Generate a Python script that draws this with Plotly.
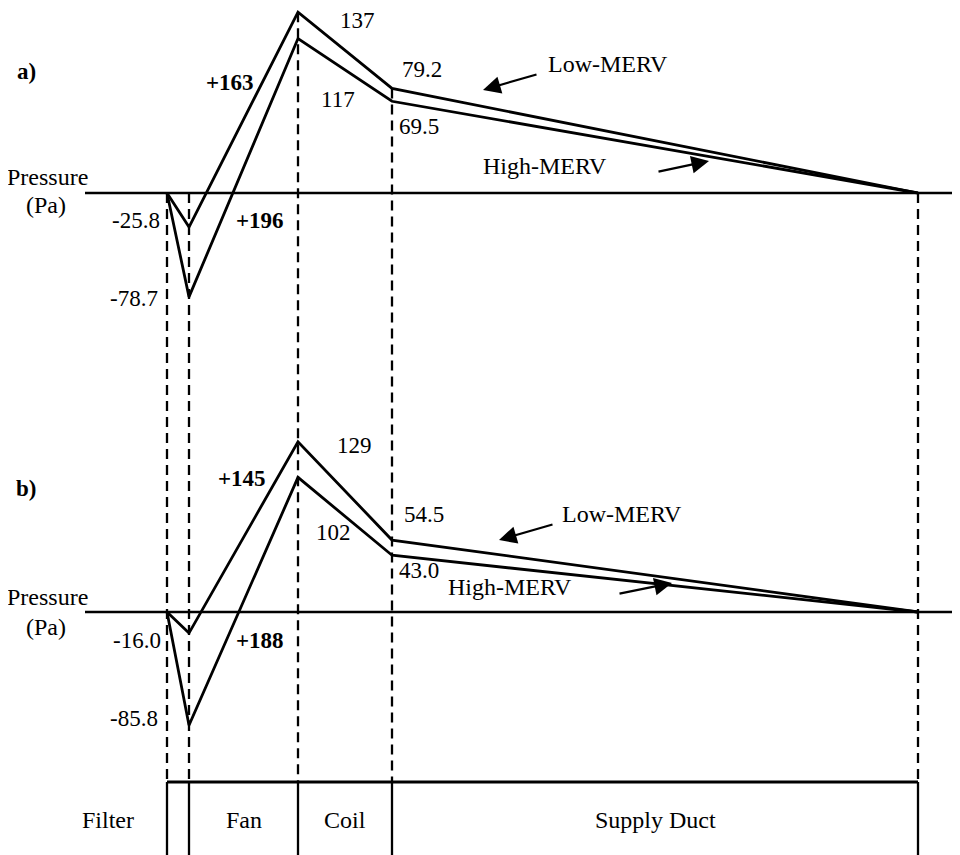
import plotly.graph_objects as go
import numpy as np

# ---------------- data ----------------
components = ["Filter", "Fan", "Coil", "Supply Duct"]
component_length = [0.22, 1.09, 0.94, 5.26]          # schematic lengths (arbitrary units)

low_a = [0, -25.8, 137, 79.2, 0]                       # a) Low-MERV pressure (Pa)
high_a = [0, -78.7, 117, 69.5, 0]                      # a) High-MERV pressure (Pa)
low_b = [0, -16.0, 129, 54.5, 0]                       # b) Low-MERV pressure (Pa)
high_b = [0, -85.8, 102, 43.0, 0]                      # b) High-MERV pressure (Pa)
fan_rise_a = [163, 196]                                # Low, High
fan_rise_b = [145, 188]

# ---------------- layout constants (reference pixel frame) ----------------
W, H = 960, 855
OFF = 8                      # default page margin of the html body
FW, FH = W - OFF, H - OFF    # figure size
X0_PX = 167
PX_PER_UNIT = 100
SCALE = 1.32                 # px per Pa
ZERO_A_PX = 193
ZERO_B_PX = 612
TABLE_PX = 782
FONT = "Liberation Serif"

stations = np.concatenate([[0], np.cumsum(component_length)])

def va(px):   # pixel row -> value on axis a
    return (ZERO_A_PX - px) / SCALE

def vb(px):
    return (ZERO_B_PX - px) / SCALE

def px_x(px):
    return (px - OFF) / FW

def px_y(py):
    return 1 - (py - OFF) / FH

fig = go.Figure()

line_style = dict(color="black", width=2.8)
for y, ax in [(low_a, "y"), (high_a, "y"), (low_b, "y2"), (high_b, "y2")]:
    fig.add_trace(go.Scatter(x=stations, y=y, mode="lines", line=line_style,
                             yaxis=ax, hoverinfo="skip", showlegend=False))

# dashed station lines: from top of panel-a profile down to the component table
for i, xs in enumerate(stations):
    top = max(0, low_a[i], high_a[i])
    fig.add_trace(go.Scatter(x=[xs, xs], y=[top, va(TABLE_PX)], mode="lines",
                             line=dict(color="black", width=2.3, dash="10px,6px"),
                             yaxis="y", hoverinfo="skip", showlegend=False))

shapes = []
for yref in ["y", "y2"]:
    shapes.append(dict(type="line", xref="paper", yref=yref, x0=px_x(85), x1=1, y0=0, y1=0,
                       line=dict(color="black", width=2.3)))
shapes.append(dict(type="line", xref="x", yref="paper", x0=stations[0], x1=stations[-1],
                   y0=px_y(TABLE_PX), y1=px_y(TABLE_PX), line=dict(color="black", width=3)))
for xs in stations:
    shapes.append(dict(type="line", xref="x", yref="paper", x0=xs, x1=xs,
                       y0=px_y(TABLE_PX), y1=0, line=dict(color="black", width=2.3)))

annotations = []

def ann(text, px, py, bold=False, size=23):
    if bold:
        text = f"<b>{text}</b>"
    annotations.append(dict(text=text, xref="paper", yref="paper", x=px_x(px), y=px_y(py),
                            xanchor="center", yanchor="middle", showarrow=False,
                            font=dict(family=FONT, size=size, color="black")))

def arrow(tail, tip):
    annotations.append(dict(text="", xref="paper", yref="paper", x=px_x(tip[0]), y=px_y(tip[1]),
                            ax=tail[0] - tip[0], ay=tail[1] - tip[1], showarrow=True,
                            arrowhead=2, arrowsize=1.6, arrowwidth=2.2, arrowcolor="black",
                            standoff=0, startstandoff=0))

# panel a
ann("a)", 26, 72, bold=True, size=23)
ann("Pressure", 47, 177, size=24)
ann("(Pa)", 46, 205, size=24)
ann(f"{low_a[2]:.0f}", 357, 21)
ann(f"+{fan_rise_a[0]}", 230, 83, bold=True)
ann(f"{high_a[2]:.0f}", 338, 100)
ann(f"{low_a[3]:.1f}", 422, 70)
ann(f"{high_a[3]:.1f}", 419, 126)
ann(f"{low_a[1]:.1f}", 136, 220)
ann(f"+{fan_rise_a[1]}", 260, 220, bold=True)
ann(f"{high_a[1]:.1f}", 134, 298)
ann("Low-MERV", 608, 64, size=24)
ann("High-MERV", 545, 166, size=24)
arrow((538, 74), (483, 90))
arrow((657, 172), (709, 161))

# panel b
ann("b)", 26, 488, bold=True, size=23)
ann("Pressure", 47, 597, size=24)
ann("(Pa)", 46, 627, size=24)
ann(f"{low_b[2]:.0f}", 354, 445)
ann(f"+{fan_rise_b[0]}", 242, 478, bold=True)
ann(f"{high_b[2]:.0f}", 333, 532)
ann(f"{low_b[3]:.1f}", 424, 515)
ann(f"{high_b[3]:.1f}", 419, 570)
ann(f"{low_b[1]:.1f}", 137, 640)
ann(f"+{fan_rise_b[1]}", 260, 640, bold=True)
ann(f"{high_b[1]:.1f}", 134, 718)
ann("Low-MERV", 622, 514, size=24)
ann("High-MERV", 510, 587, size=24)
arrow((554, 524), (499, 540))
arrow((618, 594), (672, 583))

# component labels
for i, name in enumerate(components):
    if name == "Filter":
        annotations.append(dict(text=name, xref="x", yref="paper", x=stations[0], y=px_y(820),
                                xanchor="right", yanchor="middle", xshift=-31, showarrow=False,
                                font=dict(family=FONT, size=24, color="black")))
    else:
        annotations.append(dict(text=name, xref="x", yref="paper",
                                x=(stations[i] + stations[i + 1]) / 2, y=px_y(820),
                                xanchor="center", yanchor="middle", showarrow=False,
                                font=dict(family=FONT, size=24, color="black")))

fig.update_layout(
    width=FW, height=FH,
    margin=dict(l=0, r=0, t=0, b=0),
    paper_bgcolor="white", plot_bgcolor="white",
    font=dict(family=FONT, color="black"),
    xaxis=dict(range=[(OFF - X0_PX) / PX_PER_UNIT, (W - X0_PX) / PX_PER_UNIT],
               visible=False, fixedrange=True),
    yaxis=dict(range=[va(H), va(OFF)], visible=False, domain=[0, 1]),
    yaxis2=dict(range=[vb(H), vb(OFF)], visible=False, overlaying="y"),
    shapes=shapes,
    annotations=annotations,
    showlegend=False,
)

fig.write_html("out.html")
